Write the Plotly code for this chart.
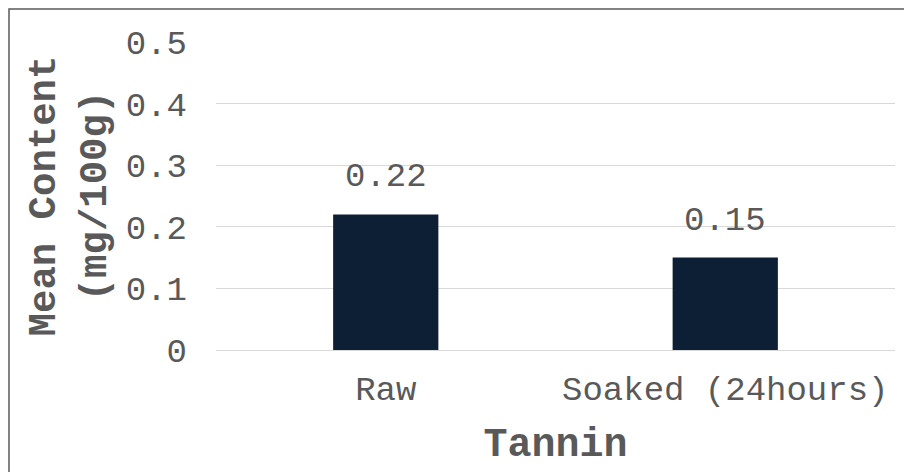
import plotly.graph_objects as go

categories = ["Raw", "Soaked (24hours)"]
values = [0.22, 0.15]
value_labels = ["0.22", "0.15"]
y_ticks = [0, 0.1, 0.2, 0.3, 0.4, 0.5]
y_tick_text = ["0", "0.1", "0.2", "0.3", "0.4", "0.5"]

FONT = "Courier New, Liberation Mono, monospace"
W, H = 904, 472
L, R, T, B = 216, 9, 42, 122
pw, ph = W - L - R, H - T - B

fig = go.Figure()
fig.add_trace(go.Bar(
    x=categories, y=values, width=0.31,
    marker=dict(color="#0c1f35", line=dict(width=0)),
    showlegend=False,
))
for c, v, t in zip(categories, values, value_labels):
    fig.add_annotation(x=c, y=v, text=t, showarrow=False, yanchor="bottom",
                       yshift=16, font=dict(family=FONT, size=34, color="#595959"))

# outer border
fig.add_shape(type="rect", xref="paper", yref="paper",
              x0=(9 - L) / pw, x1=(W + 3 - L) / pw,
              y0=(H - B - (H + 3)) / ph, y1=(H - B - 9) / ph,
              line=dict(color="#595959", width=1.5), layer="below")

fig.update_layout(
    width=W, height=H,
    margin=dict(l=L, r=R, t=T, b=B, autoexpand=False),
    plot_bgcolor="white", paper_bgcolor="white",
    font=dict(family=FONT, color="#595959"),
    bargap=0.69,
    xaxis=dict(
        showgrid=False, showline=False, zeroline=False, ticks="",
        ticklabelstandoff=15,
        tickfont=dict(family=FONT, size=34, color="#595959"),
        title=dict(text="<b>Tannin</b>", font=dict(family=FONT, size=40, color="#595959"),
                   standoff=18),
        automargin=False,
    ),
    yaxis=dict(
        range=[0, 0.5], tickvals=y_ticks, ticktext=y_tick_text,
        showgrid=True, gridcolor="#d9d9d9", gridwidth=1,
        zeroline=True, zerolinecolor="#d9d9d9", zerolinewidth=1,
        showline=False, ticks="", ticklabelstandoff=28,
        tickfont=dict(family=FONT, size=34, color="#595959"),
        title=dict(text="<b>Mean Content<br>(mg/100g)</b>",
                   font=dict(family=FONT, size=39, color="#595959"), standoff=7),
        automargin=False,
    ),
)

fig.write_html("out.html")
